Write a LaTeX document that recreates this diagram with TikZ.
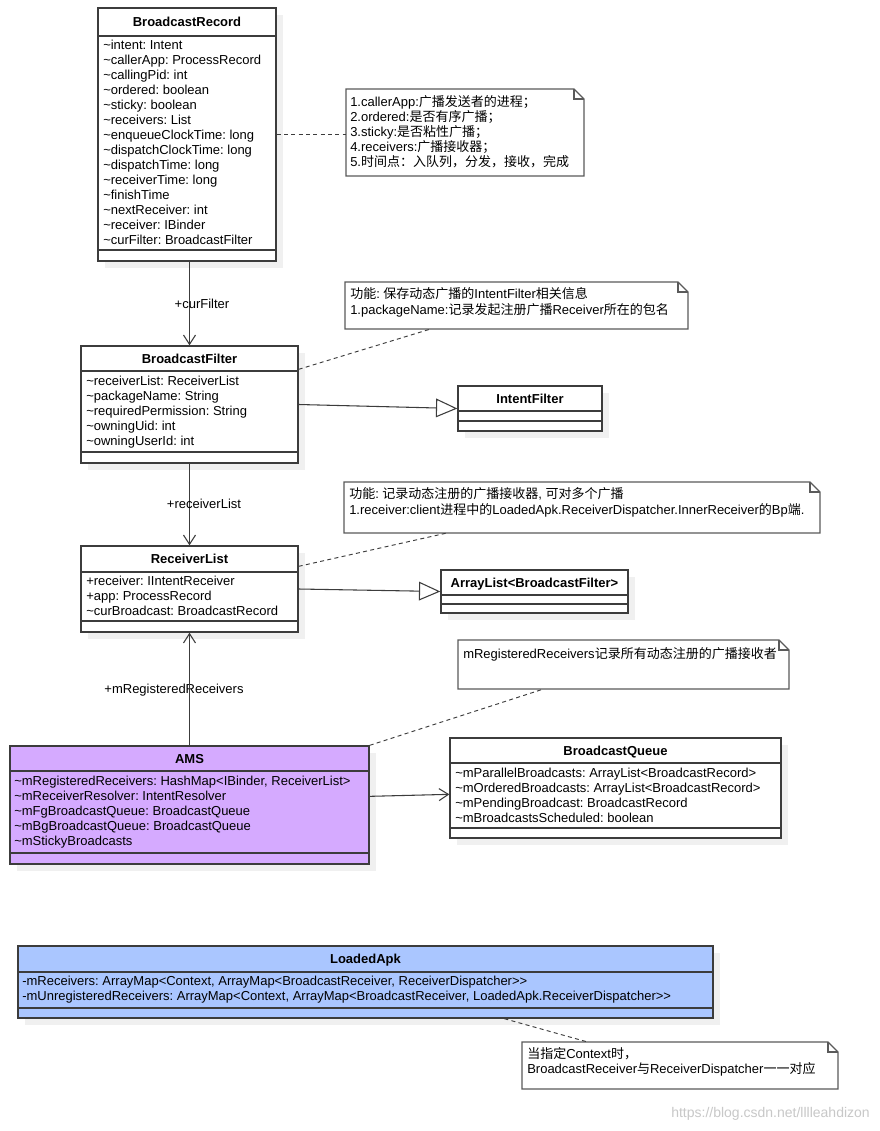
\documentclass[tikz,border=0pt]{standalone}
\usepackage{fontspec}
\setmainfont{Liberation Sans}
\newfontfamily\cjkfont{Noto Sans CJK SC}
\newcommand\zh[1]{{\cjkfont #1}}
\newcommand\tilda{\textasciitilde}
\usetikzlibrary{arrows.meta,calc,fit}

\definecolor{linec}{RGB}{60,60,60}
\definecolor{notec}{RGB}{90,90,90}
\definecolor{amsfill}{RGB}{213,170,255}
\definecolor{apkfill}{RGB}{170,198,255}
\definecolor{shadowc}{RGB}{240,240,240}
\definecolor{wmc}{RGB}{200,200,200}

\tikzset{
  every node/.style={font=\fontsize{9.75}{11.25}\selectfont\frenchspacing, text=black},
  box/.style={draw=linec, line width=1pt, inner sep=0pt},
  sep/.style={draw=linec, line width=1pt},
  ttl/.style={font=\fontsize{9.75}{11.25}\selectfont\bfseries, anchor=base, inner sep=0pt},
  attr/.style={anchor=base west, inner sep=0pt},
  notedraw/.style={draw=notec, line width=0.9pt, fill=white},
  assoc/.style={draw=linec, line width=0.8pt, -{Straight Barb[length=7pt,width=9pt]}},
  gen/.style={draw=linec, line width=0.8pt, -{Triangle[open,length=16pt,width=14pt,fill=white]}},
  anchorline/.style={draw=linec, line width=0.7pt, dash pattern=on 3pt off 2.5pt},
  lbl/.style={anchor=base, inner sep=0pt},
}

% #1 name, #2 x1, #3 y1, #4 x2, #5 y2, #6 sep1, #7 sep2, #8 fill, #9 title
\newcommand\umlclass[9]{%
  \fill[shadowc] (#2+7,#3+7) rectangle (#4+7,#5+7);
  \node[box, fill=#8, fit={(#2,#3) (#4,#5)}] (#1) {};
  \node[ttl] (#1-title) at ({(#2+#4)/2},{(#3+#6)/2+4.5}) {#9};
  \draw[sep] (#2,#6) -- (#4,#6);
  \draw[sep] (#2,#7) -- (#4,#7);
}
% #1 name, #2 x1, #3 y1, #4 x2, #5 y2
\newcommand\umlnote[5]{%
  \node[inner sep=0pt, fit={(#2,#3) (#4,#5)}] (#1) {};
  \draw[notedraw] (#2,#3) -- (#4-10,#3) -- (#4,#3+10) -- (#4,#5) -- (#2,#5) -- cycle;
  \draw[notedraw, fill=none] (#4-10,#3) -- (#4-10,#3+10) -- (#4,#3+10);
}

\begin{document}
\frenchspacing
\begin{tikzpicture}[x=0.75pt,y=-0.75pt]
\fill[white] (0,0) rectangle (879,1131);
\useasboundingbox (0,0) rectangle (879,1131);

% ---------- classes ----------
\umlclass{br}{98}{8}{276}{261}{36}{250}{white}{BroadcastRecord}
\foreach \t [count=\i from 0] in {%
  \tilda intent: Intent,
  \tilda callerApp: ProcessRecord,
  \tilda callingPid: int,
  \tilda ordered: boolean,
  \tilda sticky: boolean,
  \tilda receivers: List,
  \tilda enqueueClockTime: long,
  \tilda dispatchClockTime: long,
  \tilda dispatchTime: long,
  \tilda receiverTime: long,
  \tilda finishTime,
  \tilda nextReceiver: int,
  \tilda receiver: IBinder,
  \tilda curFilter: BroadcastFilter}
  \node[attr] (br-\i) at (103, 49.5+15*\i) {\t};

\umlclass{bf}{81}{346}{298}{463}{371}{452}{white}{BroadcastFilter}
\foreach \t [count=\i from 0] in {%
  \tilda receiverList: ReceiverList,
  \tilda packageName: String,
  \tilda requiredPermission: String,
  \tilda owningUid: int,
  \tilda owningUserId: int}
  \node[attr] (bf-\i) at (86, 385.5+15*\i) {\t};

\umlclass{if}{458}{386}{602}{431}{411}{421}{white}{IntentFilter}

\umlclass{rl}{81}{546}{298}{632}{572}{621}{white}{ReceiverList}
\foreach \t [count=\i from 0] in {%
  +receiver: IIntentReceiver,
  +app: ProcessRecord,
  \tilda curBroadcast: BroadcastRecord}
  \node[attr] (rl-\i) at (86, 585.5+15*\i) {\t};

\umlclass{al}{441}{570}{628}{613}{595}{604}{white}{ArrayList<BroadcastFilter>}

\umlclass{ams}{10}{746}{369}{864}{771}{853}{amsfill}{AMS}
\foreach \t [count=\i from 0] in {%
  {\tilda mRegisteredReceivers: HashMap<IBinder, ReceiverList>},
  \tilda mReceiverResolver: IntentResolver,
  \tilda mFgBroadcastQueue: BroadcastQueue,
  \tilda mBgBroadcastQueue: BroadcastQueue,
  \tilda mStickyBroadcasts}
  \node[attr] (ams-\i) at (14, 785.5+15*\i) {\t};

\umlclass{bq}{450}{738}{781}{838}{763}{828}{white}{BroadcastQueue}
\foreach \t [count=\i from 0] in {%
  \tilda mParallelBroadcasts: ArrayList<BroadcastRecord>,
  \tilda mOrderedBroadcasts: ArrayList<BroadcastRecord>,
  \tilda mPendingBroadcast: BroadcastRecord,
  \tilda mBroadcastsScheduled: boolean}
  \node[attr] (bq-\i) at (455, 777.5+15*\i) {\t};

\umlclass{la}{18}{946}{713}{1018}{972}{1008}{apkfill}{LoadedApk}
\foreach \t [count=\i from 0] in {%
  {-mReceivers: ArrayMap<Context, ArrayMap<BroadcastReceiver, ReceiverDispatcher>{}>},
  {-mUnregisteredReceivers: ArrayMap<Context, ArrayMap<BroadcastReceiver, LoadedApk.ReceiverDispatcher>{}>}}
  \node[attr] (la-\i) at (22, 985.5+15*\i) {\t};

% ---------- notes ----------
\umlnote{n1}{346}{89}{584}{176}
\node[attr] (n1-0) at (350,106.5) {1.callerApp:\zh{广播发送者的进程；}};
\node[attr] (n1-1) at (350,121.5) {2.ordered:\zh{是否有序广播；}};
\node[attr] (n1-2) at (350,136.5) {3.sticky:\zh{是否粘性广播；}};
\node[attr] (n1-3) at (350,151.5) {4.receivers:\zh{广播接收器；}};
\node[attr] (n1-4) at (350,166.5) {5.\zh{时间点：入队列，分发，接收，完成}};

\umlnote{n2}{345}{282}{688}{329}
\node[attr] (n2-0) at (350,298.5) {\zh{功能}: \zh{保存动态广播的}IntentFilter\zh{相关信息}};
\node[attr] (n2-1) at (350,314.5) {1.packageName:\zh{记录发起注册广播}Receiver\zh{所在的包名}};

\umlnote{n3}{344}{482}{820}{533}
\node[attr] (n3-0) at (349,498.5) {\zh{功能}: \zh{记录动态注册的广播接收器}, \zh{可对多个广播}};
\node[attr] (n3-1) at (349,514.5) {1.receiver:client\zh{进程中的}LoadedApk.ReceiverDispatcher.InnerReceiver\zh{的}Bp\zh{端}.};

\umlnote{n4}{458}{640}{789}{689}
\node[attr] (n4-0) at (463,658.5) {mRegisteredReceivers\zh{记录所有动态注册的广播接收者}};

\umlnote{n5}{522}{1042}{838}{1089}
\node[attr] (n5-0) at (527,1058.5) {\zh{当指定}Context\zh{时，}};
\node[attr] (n5-1) at (527,1073.5) {BroadcastReceiver\zh{与}ReceiverDispatcher\zh{一一对应}};

% ---------- connectors ----------
\draw[assoc] (bf.north |- br.south) -- (bf.north);
\node[lbl] (l1) at (202,308.5) {+curFilter};
\draw[assoc] (bf.south) -- (rl.north);
\node[lbl] (l2) at (204,508.5) {+receiverList};
\node[lbl] (l3) at (174,693.5) {+mRegisteredReceivers};
\draw[assoc] (ams.north -| rl.south) -- (rl.south);

\draw[gen] (bf.east) -- (if.west);
\draw[gen] (rl.east) -- (al.west);
\draw[assoc] ($(ams.north east)+(0,51)$) -- ($(bq.north west)+(0,57)$);

\draw[anchorline] (br.east) -- (n1.west |- br.east);
\draw[anchorline] ($(bf.north east)+(0,24)$) -- ($(n2.south west)+(85,0)$);
\draw[anchorline] ($(rl.north east)+(0,21)$) -- ($(n3.south west)+(102,0)$);
\draw[anchorline] (ams.north east) -- ($(n4.south west)+(85,0)$);
\draw[anchorline] ($(la.south west)+(487,0)$) -- ($(n5.north west)+(65,0)$);

% watermark
\node[anchor=base east, inner sep=0pt, text=wmc, font=\fontsize{10.5}{12}\selectfont] (wm) at (870,1117) {https://blog.csdn.net/lllleahdizon};
\end{tikzpicture}
\end{document}
